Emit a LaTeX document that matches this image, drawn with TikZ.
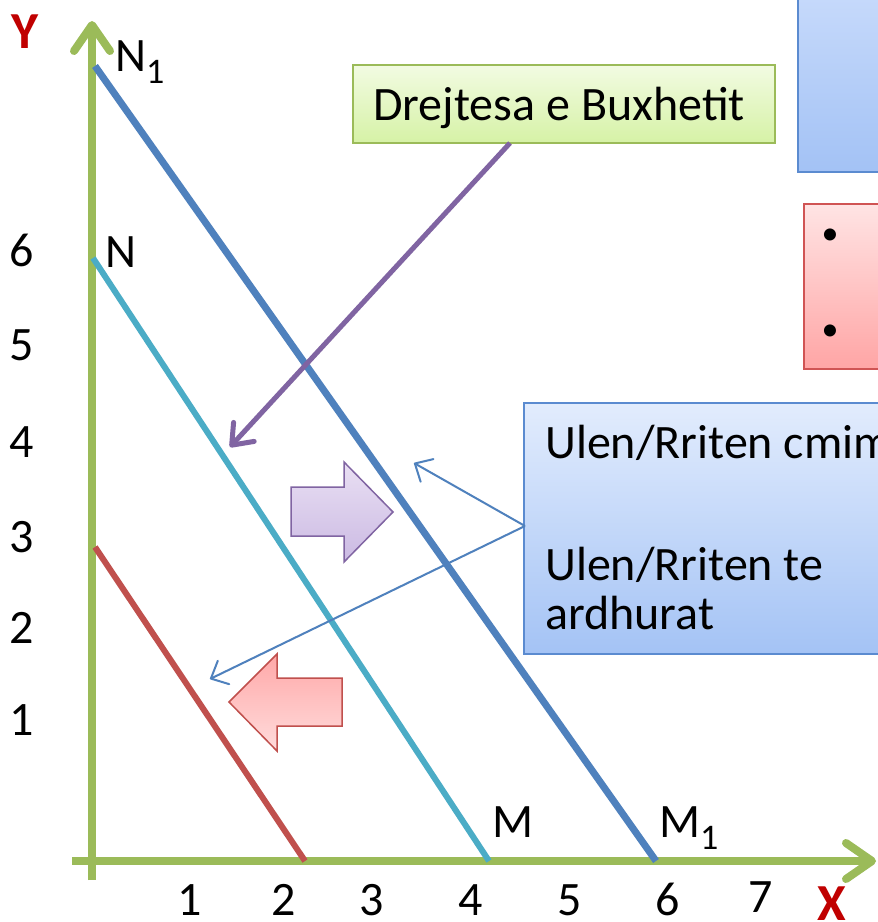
\documentclass[tikz,border=0pt]{standalone}
\usepackage{fontspec}
\setmainfont{Carlito}
\usetikzlibrary{arrows.meta}
\definecolor{axisgreen}{RGB}{155,187,89}
\definecolor{darkblue}{RGB}{79,129,189}
\definecolor{teal}{RGB}{75,172,198}
\definecolor{redline}{RGB}{192,80,77}
\definecolor{purp}{RGB}{128,100,162}
\definecolor{labred}{RGB}{192,0,0}
\definecolor{boxblue}{RGB}{91,139,208}
\definecolor{boxred}{RGB}{208,84,84}
\tikzset{
  lbl/.style={inner sep=0pt, font=\fontsize{48}{56}\selectfont},
  axislbl/.style={inner sep=0pt, font=\fontsize{52}{58}\selectfont\bfseries, text=labred},
  axisline/.style={draw=axisgreen, line width=8pt, -{Straight Barb[length=26pt,width=36pt,round]}},
  thinarrow/.style={draw=darkblue, line width=2pt, -{Straight Barb[length=14pt,width=26pt,round]}},
}
\begin{document}
\begin{tikzpicture}[x=1pt,y=-1pt]
\clip (0,0) rectangle (878,922);
\fill[white] (0,0) rectangle (878,922);

% axes
\coordinate (ybot) at (92,880);
\coordinate (ytop) at (92,21);
\coordinate (xleft) at (72,861);
\coordinate (xright) at (876,861);
\draw[axisline] (ybot) -- (ytop);
\draw[axisline] (xleft) -- (xright);

% budget lines
\coordinate (N1) at (95,66);
\coordinate (M1) at (656,861);
\coordinate (N) at (93,258);
\coordinate (M) at (489,861);
\coordinate (R1) at (95,547);
\coordinate (R2) at (305,861);
\draw[darkblue, line width=7pt] (N1) -- (M1);
\draw[teal, line width=6pt] (N) -- (M);
\draw[redline, line width=6pt] (R1) -- (R2);

% axis labels
\node[axislbl, anchor=base] (ylab) at (25,48) {Y};
\node[axislbl, anchor=base] (xlab) at (832,920) {X};

% y ticks
\node[lbl, anchor=base] (y6) at (22,266) {6};
\node[lbl, anchor=base] (y5) at (22,360) {5};
\node[lbl, anchor=base] (y4) at (22,457) {4};
\node[lbl, anchor=base] (y3) at (22,552) {3};
\node[lbl, anchor=base] (y2) at (22,643) {2};
\node[lbl, anchor=base] (y1) at (22,735) {1};
% x ticks
\node[lbl, anchor=base] (x1) at (190,915) {1};
\node[lbl, anchor=base] (x2) at (284,915) {2};
\node[lbl, anchor=base] (x3) at (372,915) {3};
\node[lbl, anchor=base] (x4) at (471,915) {4};
\node[lbl, anchor=base] (x5) at (570,915) {5};
\node[lbl, anchor=base] (x6) at (668,915) {6};
\node[lbl, anchor=base] (x7) at (761,912) {7};

% point labels
\node[lbl, anchor=base west] (lN1) at (115,71) {N\raisebox{-12pt}{\fontsize{36}{40}\selectfont 1}};
\node[lbl, anchor=base west] (lN) at (105,267) {N};
\node[lbl, anchor=base west] (lM) at (492,837) {M};
\node[lbl, anchor=base west] (lM1) at (659,837) {M\raisebox{-12pt}{\fontsize{36}{40}\selectfont 1}};

% right boxes (clipped)
\draw[boxblue, line width=2pt, top color={rgb,255:red,199;green,218;blue,251}, bottom color={rgb,255:red,163;green,194;blue,245}] (798,-10) rectangle (900,172);
\draw[boxred, line width=2pt, top color={rgb,255:red,255;green,228;blue,228}, bottom color={rgb,255:red,255;green,165;blue,165}] (804,204) rectangle (900,369);
\node[inner sep=0pt, font=\fontsize{34}{40}\selectfont, anchor=center] (b1) at (830,237) {•};
\node[inner sep=0pt, font=\fontsize{34}{40}\selectfont, anchor=center] (b2) at (830,333) {•};

% Drejtesa box
\draw[axisgreen, line width=2pt, top color={rgb,255:red,242;green,251;blue,226}, bottom color={rgb,255:red,214;green,242;blue,166}] (353,65) rectangle (775,143);
\node[lbl, anchor=base west] (dr) at (373,120) {Drejtesa e Buxhetit};
\coordinate (drfoot) at (510,143);
\coordinate (drtip) at (230,447);
\draw[purp, line width=5pt, -{Straight Barb[length=18pt,width=28pt,round]}] (drfoot) -- (drtip);

% Ulen box
\draw[boxblue, line width=2pt, top color={rgb,255:red,226;green,236;blue,253}, bottom color={rgb,255:red,164;green,195;blue,245}] (524,403) rectangle (900,654);
\node[lbl, anchor=base west] (u1) at (545,458) {Ulen/Rriten cmim};
\node[lbl, anchor=base west] (u2) at (545,580) {Ulen/Rriten te};
\node[lbl, anchor=base west] (u3) at (545,629) {ardhurat};
\coordinate (ubox) at (525,526);
\coordinate (tipA) at (414,463);
\coordinate (tipB) at (210,679);
\draw[thinarrow] (ubox) -- (tipA);
\draw[thinarrow] (ubox) -- (tipB);

% block arrows
\draw[purp, line width=1.5pt, top color={rgb,255:red,233;green,223;blue,243}, bottom color={rgb,255:red,203;green,186;blue,227}]
  (291,487) -- (344,487) -- (344,462) -- (393,512) -- (344,562) -- (344,536) -- (291,536) -- cycle;
\draw[redline, line width=1.5pt, top color={rgb,255:red,255;green,168;blue,168}, bottom color={rgb,255:red,255;green,220;blue,220}]
  (229,702) -- (277,654) -- (277,678) -- (342,678) -- (342,726) -- (277,726) -- (277,751) -- cycle;
\end{tikzpicture}
\end{document}
